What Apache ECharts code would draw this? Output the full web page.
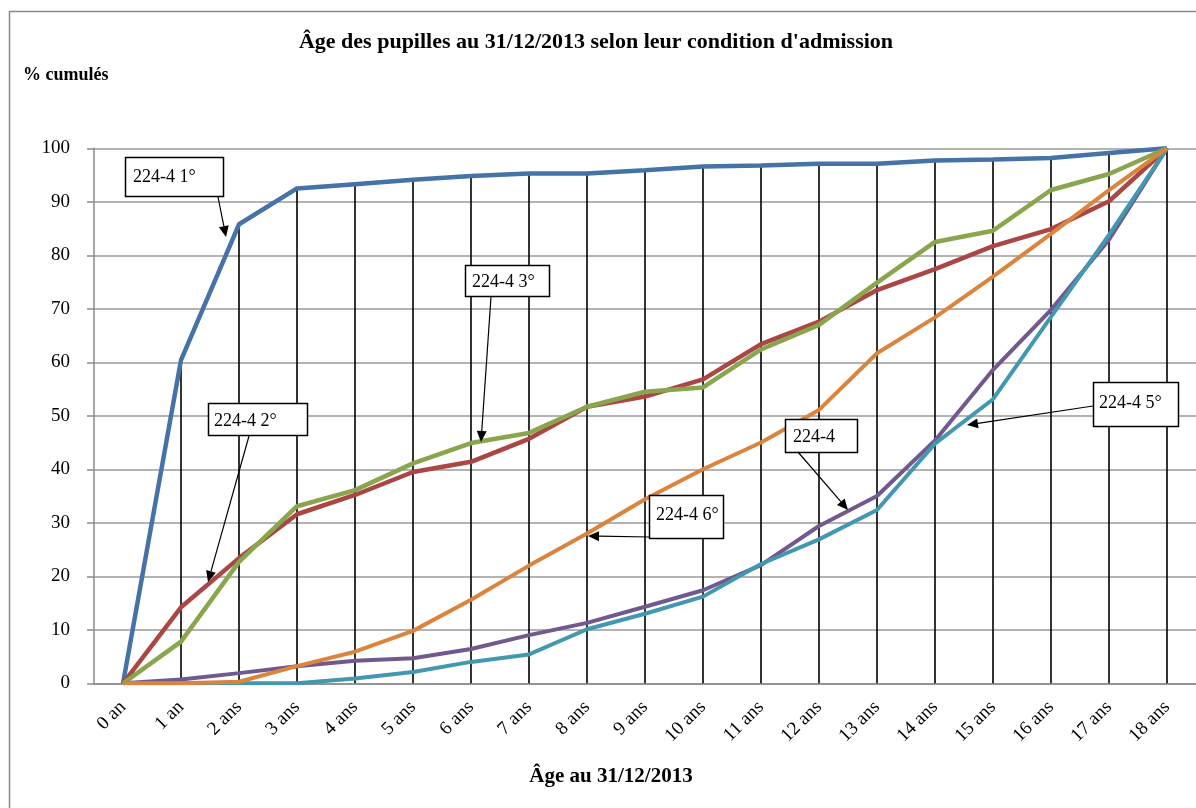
<!DOCTYPE html>
<html>
<head>
<meta charset="utf-8">
<script src="https://cdn.jsdelivr.net/npm/echarts@6/dist/echarts.min.js"></script>
<style>
html,body{margin:0;padding:0;background:#fff;}
#chart{width:1196px;height:808px;}
</style>
</head>
<body>
<div id="chart"></div>
<script>
const categories = ["0 an","1 an","2 ans","3 ans","4 ans","5 ans","6 ans","7 ans","8 ans","9 ans","10 ans","11 ans","12 ans","13 ans","14 ans","15 ans","16 ans","17 ans","18 ans"];
const yTicks = [0,10,20,30,40,50,60,70,80,90,100];

const s1 = [0,60.4,85.8,92.5,93.3,94.1,94.8,95.3,95.3,95.9,96.6,96.8,97.1,97.1,97.7,97.9,98.2,99.1,100];
const s2 = [0,14.2,23.4,31.6,35.2,39.5,41.4,45.7,51.7,53.6,56.8,63.4,67.6,73.5,77.4,81.7,84.9,90.1,100];
const s3 = [0,7.8,22.7,33.1,36.1,41.1,44.9,46.8,51.7,54.5,55.3,62.4,67.0,74.9,82.5,84.6,92.2,95.2,100];
const s6 = [0,0,0.3,3.2,5.9,9.8,15.6,22.0,28.0,34.4,40.0,45.0,51.1,61.7,68.4,76.0,84.0,92.2,100];
const s4 = [0,0.7,1.9,3.2,4.2,4.7,6.4,9.0,11.3,14.3,17.4,22.1,29.4,35.0,45.4,58.6,69.8,82.9,100];
const s5 = [0,0,0,0,0.9,2.1,4.0,5.4,10.1,13.0,16.2,22.3,26.9,32.4,44.8,53.1,68.5,83.8,100];

const seriesNames = ["224-4 1°","224-4 2°","224-4 3°","224-4","224-4 5°","224-4 6°"];
const seriesData = [s1,s2,s3,s4,s5,s6];
const colors = ["#4572A7","#AA4643","#89A54E","#71588F","#4198AF","#DB843D"];
const widths = [4.5,4.5,4.5,4,4,4];

const dropTop = categories.map((c,i)=>Math.max(...seriesData.map(s=>s[i])));

const FONT = "Liberation Serif";

// callouts: [text, boxX, boxY, boxW, boxH, textX, textY, fromX, fromY, toX, toY]
const callouts = [
  ["224-4 1°",125,157,98,39,133,177,218,197,226,237],
  ["224-4 2°",208,403,99,32,214,421,249,436,208,582],
  ["224-4 3°",465,265,84,31,472,282,491,297,481,442],
  ["224-4",785,419,72,33,793,437,798,452,848,510],
  ["224-4 6°",649,495,74,43,656,515,649,537,588,536],
  ["224-4 5°",1093,382,85,44,1099,403,1093,406,967,425]
];

const graphics = [];
graphics.push({type:'rect',shape:{x:9.5,y:11.5,width:1400,height:1000},style:{fill:'none',stroke:'#8a8a8a',lineWidth:1.5},silent:true,z:0});
graphics.push({type:'text',x:596,y:42,style:{text:"Âge des pupilles au 31/12/2013 selon leur condition d'admission",font:"bold 22px '"+FONT+"'",fill:'#000',textAlign:'center',textVerticalAlign:'middle'}});
graphics.push({type:'text',x:23,y:75,style:{text:"% cumulés",font:"bold 18px '"+FONT+"'",fill:'#000',textAlign:'left',textVerticalAlign:'middle'}});
graphics.push({type:'text',x:611,y:777,style:{text:"Âge au 31/12/2013",font:"bold 21px '"+FONT+"'",fill:'#000',textAlign:'center',textVerticalAlign:'middle'}});

callouts.forEach(c=>{
  const [t,bx,by,bw,bh,tx,ty,fx,fy,ex,ey] = c;
  graphics.push({type:'rect',shape:{x:bx+0.5,y:by+0.5,width:bw,height:bh},style:{fill:'#fff',stroke:'#000',lineWidth:1.5},z:100});
  graphics.push({type:'text',x:tx,y:ty,style:{text:t,font:"18px '"+FONT+"'",fill:'#000',textAlign:'left',textVerticalAlign:'middle'},z:101});
  const dx = ex-fx, dy = ey-fy, len = Math.sqrt(dx*dx+dy*dy);
  const ux = dx/len, uy = dy/len;
  const hl = 11, hw = 5;
  const bxp = ex-ux*hl, byp = ey-uy*hl;
  graphics.push({type:'line',shape:{x1:fx,y1:fy,x2:bxp,y2:byp},style:{stroke:'#000',lineWidth:1.2},z:100});
  graphics.push({type:'polygon',shape:{points:[[ex,ey],[bxp-uy*hw,byp+ux*hw],[bxp+uy*hw,byp-ux*hw]]},style:{fill:'#000'},z:100});
});

const series = [{
  type:'bar', name:'drop', data:dropTop, barWidth:1.6, itemStyle:{color:'#000'}, silent:true, z:1, animation:false
}];
seriesData.forEach((d,i)=>{
  series.push({type:'line',name:seriesNames[i],data:d,symbol:'none',lineStyle:{color:colors[i],width:widths[i]},itemStyle:{color:colors[i]},z:2+i,animation:false});
});

const chart = echarts.init(document.getElementById('chart'));
chart.setOption({
  animation:false,
  backgroundColor:'#fff',
  grid:{left:94,top:148.3,width:1103,height:535,containLabel:false},
  xAxis:{type:'category',data:categories,boundaryGap:true,
    axisLine:{lineStyle:{color:'#8a8a8a',width:1.5}},
    axisTick:{show:false},
    axisLabel:{rotate:45,margin:21,fontSize:19,fontFamily:FONT,color:'#000',interval:0},
    splitLine:{show:false}},
  yAxis:{type:'value',min:0,max:100,interval:10,
    axisLine:{show:true,lineStyle:{color:'#8a8a8a',width:1.5}},
    axisTick:{show:true,length:7,lineStyle:{color:'#8a8a8a',width:1.5}},
    axisLabel:{margin:24,fontSize:19,fontFamily:FONT,color:'#000',padding:[0,0,14,0],
      formatter:(v)=> yTicks.includes(v)? String(v):''},
    splitLine:{show:true,lineStyle:{color:'#9a9a9a',width:1.5}}},
  series:series,
  graphic:graphics
});
</script>
</body>
</html>
